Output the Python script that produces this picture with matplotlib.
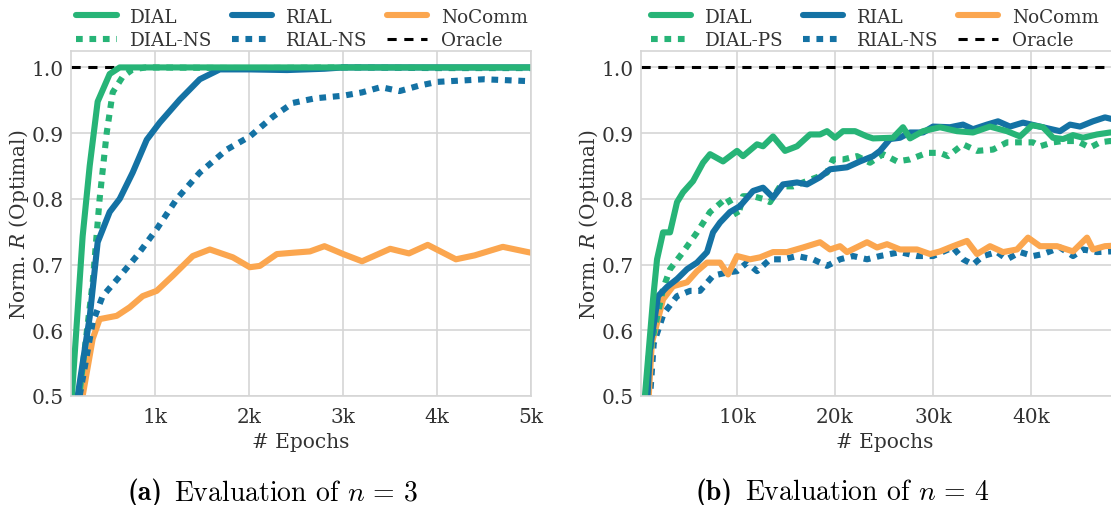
import matplotlib
matplotlib.use('Agg')
import matplotlib.pyplot as plt

plt.rcParams['font.family'] = ['DejaVu Serif']
plt.rcParams['mathtext.fontset'] = 'dejavuserif'

# 左图 n = 3
dial3_x = [100, 224, 299, 384, 512, 619, 800, 1500, 2500, 3500, 4500, 5000]
dial3_y = [0.48, 0.743, 0.85, 0.948, 0.99, 1.0, 1.0, 1.0, 1.0, 1.0, 1.0, 1.0]
dialns3_x = [150, 192, 331, 405, 480, 544, 651, 757, 900, 2000, 3000, 4000, 5000]
dialns3_y = [0.45, 0.506, 0.673, 0.80, 0.90, 0.962, 0.986, 0.997, 1.0, 0.999, 1.0, 0.999, 0.999]
rial3_x = [150, 171, 299, 384, 512, 619, 757, 907, 1045, 1259, 1472, 1685, 2000, 2400, 2800, 3000, 4000, 5000]
rial3_y = [0.46, 0.5, 0.62, 0.734, 0.78, 0.80, 0.84, 0.89, 0.916, 0.951, 0.982, 0.997, 0.997, 0.996, 0.998, 1.0, 1.0, 1.0]
rialns3_x = [170, 192, 331, 437, 619, 800, 1013, 1227, 1472, 1760, 2005, 2251, 2464, 2700, 3000,
             3200, 3400, 3600, 3800, 4000, 4500, 5000]
rialns3_y = [0.46, 0.5, 0.612, 0.652, 0.682, 0.713, 0.754, 0.80, 0.84, 0.875, 0.895, 0.925, 0.946, 0.953, 0.957,
             0.962, 0.97, 0.964, 0.972, 0.978, 0.982, 0.979]
nocomm3_x = [200, 224, 331, 405, 587, 725, 864, 1013, 1184, 1397, 1579, 1824, 2005, 2112, 2293, 2464, 2645,
             2800, 3000, 3200, 3500, 3700, 3900, 4200, 4400, 4700, 5000]
nocomm3_y = [0.46, 0.5, 0.587, 0.617, 0.622, 0.635, 0.652, 0.66, 0.683, 0.713, 0.723, 0.711, 0.696, 0.698, 0.716,
             0.718, 0.72, 0.728, 0.716, 0.705, 0.724, 0.717, 0.73, 0.708, 0.714, 0.727, 0.718]

# 右图 n = 4
dial4_x = [400, 600, 1429, 1837, 2449, 3163, 3878, 4490, 5510, 6531, 7245, 8571, 10000, 10612, 12041, 12653,
           13673, 14898, 16122, 17449, 18469, 19184, 20000, 20816, 22041, 23265, 23878, 25918, 26939, 27653,
           28980, 30714, 32449, 34082, 35816, 37551, 38878, 40102, 41224, 42245, 43265, 44286, 45306, 46735,
           48061, 50000]
dial4_y = [0.42, 0.5, 0.647, 0.708, 0.749, 0.749, 0.795, 0.81, 0.827, 0.855, 0.868, 0.857, 0.873, 0.865, 0.883, 0.88,
           0.895, 0.873, 0.88, 0.898, 0.898, 0.903, 0.893, 0.903, 0.903, 0.895, 0.892, 0.893, 0.909, 0.892,
           0.903, 0.909, 0.903, 0.901, 0.91, 0.903, 0.895, 0.912, 0.909, 0.893, 0.891, 0.897, 0.893, 0.898,
           0.901, 0.9]
rial4_x = [700, 1100, 1939, 2857, 3878, 4898, 5918, 6939, 7551, 8265, 9286, 10306, 11633, 12653, 13673, 14694,
           16122, 17143, 18469, 19490, 21224, 22551, 23878, 24592, 25612, 26633, 27653, 28980, 30000, 31735,
           33061, 34082, 35510, 36633, 37857, 39184, 40918, 42959, 43980, 45000, 46327, 47551, 50000]
rial4_y = [0.45, 0.57, 0.652, 0.666, 0.678, 0.693, 0.703, 0.719, 0.749, 0.764, 0.78, 0.789, 0.812, 0.817, 0.802, 0.822,
           0.825, 0.822, 0.833, 0.845, 0.848, 0.857, 0.865, 0.873, 0.891, 0.893, 0.901, 0.901, 0.91, 0.909,
           0.913, 0.906, 0.913, 0.918, 0.91, 0.916, 0.91, 0.903, 0.913, 0.91, 0.918, 0.924, 0.915]
dialps4_x = [600, 1000, 2449, 3163, 4490, 5918, 7245, 8980, 10102, 10612, 11633, 12653, 13367, 14388, 15714,
             16735, 18163, 19184, 19796, 20816, 22245, 23571, 24898, 26327, 27653, 29388, 30714, 31531, 33061,
             34490, 36122, 37551, 38878, 40204, 40918, 42245, 43265, 44694, 46020, 47041, 48061, 50000]
dialps4_y = [0.45, 0.56, 0.663, 0.693, 0.719, 0.749, 0.78, 0.802, 0.774, 0.804, 0.804, 0.80, 0.795, 0.819, 0.819,
             0.825, 0.833, 0.84, 0.86, 0.86, 0.865, 0.855, 0.868, 0.857, 0.86, 0.87, 0.87, 0.865, 0.883,
             0.873, 0.875, 0.886, 0.886, 0.886, 0.88, 0.886, 0.888, 0.888, 0.878, 0.886, 0.888, 0.885]
nocomm4_x = [800, 1300, 2449, 3469, 4898, 5918, 6939, 8265, 9082, 10000, 11327, 12347, 13673, 15102, 16735,
             18469, 19490, 20510, 21224, 23265, 24286, 25306, 26633, 28367, 29694, 30714, 32041, 33469, 34490,
             35816, 37143, 38571, 39694, 40918, 42653, 44286, 45714, 46327, 47551, 50000]
nocomm4_y = [0.45, 0.58, 0.647, 0.667, 0.673, 0.69, 0.703, 0.703, 0.685, 0.713, 0.708, 0.711, 0.719, 0.719, 0.726,
             0.734, 0.723, 0.728, 0.719, 0.734, 0.726, 0.731, 0.723, 0.723, 0.716, 0.72, 0.728, 0.736, 0.716,
             0.728, 0.719, 0.723, 0.741, 0.728, 0.728, 0.72, 0.741, 0.723, 0.728, 0.73]
rialns4_x = [900, 1500, 2500, 3878, 5204, 6224, 7551, 8980, 10000, 11020, 12041, 13367, 14694, 16122, 17755,
             19184, 20510, 21837, 23265, 24592, 26633, 28367, 30000, 32041, 33061, 34082, 35102, 36531, 37551,
             38878, 40204, 41224, 42959, 44286, 45306, 46735, 48061, 50000]
rialns4_y = [0.45, 0.58, 0.625, 0.652, 0.66, 0.66, 0.683, 0.688, 0.69, 0.703, 0.69, 0.708, 0.708, 0.713, 0.708,
             0.698, 0.708, 0.713, 0.708, 0.713, 0.719, 0.713, 0.713, 0.726, 0.708, 0.70, 0.713, 0.719, 0.708,
             0.719, 0.713, 0.716, 0.726, 0.713, 0.723, 0.719, 0.72, 0.72]

green = '#27b477'
blue = '#1472a4'
orange = '#fba64f'
grid_c = '#d5d5d5'
text_c = '#333333'

W, H = 1111, 506
fig = plt.figure(figsize=(W / 100, H / 100), dpi=100)
ax1 = fig.add_axes([71 / W, (H - 397) / H, (531 - 71) / W, (397 - 52) / H])
ax2 = fig.add_axes([641 / W, (H - 397) / H, (1129 - 641) / W, (397 - 52) / H])

lw = 4.4
dot = (0, (1.1, 1.1))
fs = 14.5
leg_fs = 13.2


def style_axes(ax):
    ax.set_ylim(0.5, 1.025)
    ax.set_yticks([0.5, 0.6, 0.7, 0.8, 0.9, 1.0])
    ax.set_yticklabels(['0.5', '0.6', '0.7', '0.8', '0.9', '1.0'])
    ax.grid(True, color=grid_c, linewidth=1.2)
    ax.set_axisbelow(True)
    for s in ax.spines.values():
        s.set_color(grid_c)
        s.set_linewidth(1.2)
    ax.tick_params(length=0, labelsize=fs, colors=text_c, pad=5)
    ax.tick_params(axis='x', pad=8)
    ax.set_xlabel('# Epochs', fontsize=fs, color=text_c, labelpad=4)
    ax.set_ylabel('Norm. $R$ (Optimal)', fontsize=fs, color=text_c, labelpad=1)


# (a)
ax1.axhline(1.0, color='black', linestyle='--', linewidth=2.2, dashes=(3, 2.5), zorder=1)
ax1.plot(nocomm3_x, nocomm3_y, color=orange, lw=lw)
ax1.plot(rialns3_x, rialns3_y, color=blue, lw=lw, linestyle=dot)
ax1.plot(dialns3_x, dialns3_y, color=green, lw=lw, linestyle=dot)
ax1.plot(rial3_x, rial3_y, color=blue, lw=lw)
ax1.plot(dial3_x, dial3_y, color=green, lw=lw)
ax1.set_xlim(100, 5000)
ax1.set_xticks([1000, 2000, 3000, 4000, 5000])
ax1.set_xticklabels(['1k', '2k', '3k', '4k', '5k'])
style_axes(ax1)

# (b)
ax2.axhline(1.0, color='black', linestyle='--', linewidth=2.2, dashes=(3, 2.5), zorder=1)
ax2.plot(rialns4_x, rialns4_y, color=blue, lw=lw, linestyle=dot)
ax2.plot(nocomm4_x, nocomm4_y, color=orange, lw=lw)
ax2.plot(dialps4_x, dialps4_y, color=green, lw=lw, linestyle=dot)
ax2.plot(rial4_x, rial4_y, color=blue, lw=lw)
ax2.plot(dial4_x, dial4_y, color=green, lw=lw)
ax2.set_xlim(200, 50000)
ax2.set_xticks([10000, 20000, 30000, 40000])
ax2.set_xticklabels(['10k', '20k', '30k', '40k'])
style_axes(ax2)


def add_legend(ax, ns_label, xc):
    h = [
        plt.Line2D([], [], color=green, lw=lw, solid_capstyle='round'),
        plt.Line2D([], [], color=green, lw=lw, linestyle=dot),
        plt.Line2D([], [], color=blue, lw=lw, solid_capstyle='round'),
        plt.Line2D([], [], color=blue, lw=lw, linestyle=dot),
        plt.Line2D([], [], color=orange, lw=lw, solid_capstyle='round'),
        plt.Line2D([], [], color='black', lw=2.2, linestyle='--', dashes=(3, 2.5)),
    ]
    labels = ['DIAL', ns_label, 'RIAL', 'RIAL-NS', 'NoComm', 'Oracle']
    leg = ax.legend(h, labels, ncol=3, loc='lower center', bbox_to_anchor=(xc, 1.005),
                    frameon=False, fontsize=leg_fs, handlelength=2.2, handletextpad=0.75,
                    columnspacing=1.05, labelspacing=0.3, borderaxespad=0.0, borderpad=0.0)
    for t in leg.get_texts():
        t.set_color(text_c)


add_legend(ax1, 'DIAL-NS', 0.502)
add_legend(ax2, 'DIAL-PS', 0.479)

# 子图标题
cap_y = 1 - 493 / H
fig.text(163 / W, cap_y, '(a)', ha='right', va='center', fontsize=20, family='cmb10')
fig.text(174 / W, cap_y, r'Evaluation of $n\,=\,3$', ha='left', va='center',
         fontsize=20, family='cmr10', math_fontfamily='cm')
fig.text(732 / W, cap_y, '(b)', ha='right', va='center', fontsize=20, family='cmb10')
fig.text(745 / W, cap_y, r'Evaluation of $n\,=\,4$', ha='left', va='center',
         fontsize=20, family='cmr10', math_fontfamily='cm')

fig.savefig('out.png', dpi=100)
